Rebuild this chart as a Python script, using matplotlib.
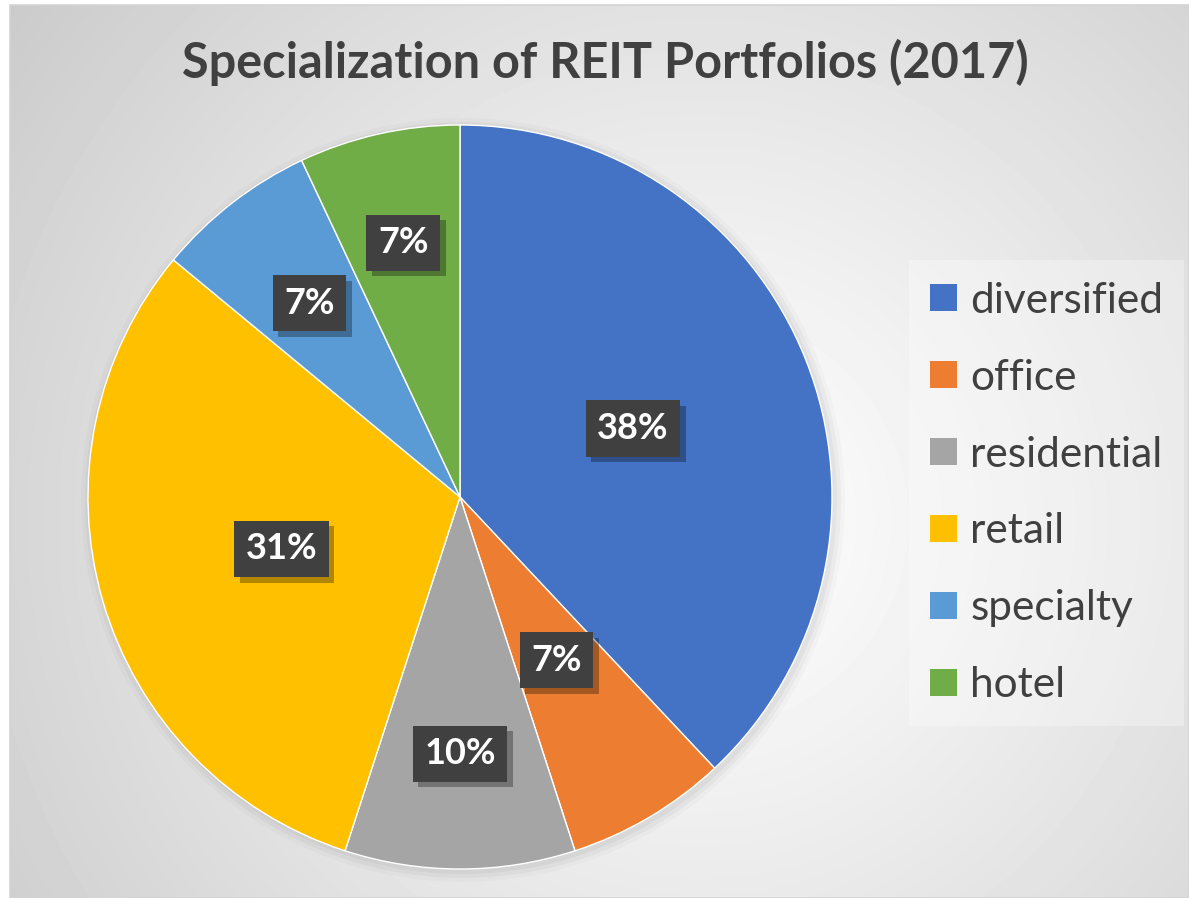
import numpy as np
import matplotlib.pyplot as plt
from matplotlib.patches import Rectangle, Circle
import matplotlib.patheffects as pe

categories = ['diversified', 'office', 'residential', 'retail', 'specialty', 'hotel']
shares = [38, 7, 10, 31, 7, 7]
colors = ['#4472C4', '#ED7D31', '#A5A5A5', '#FFC000', '#5B9BD5', '#70AD47']
title = 'Specialization of REIT Portfolios (2017)'

# how far out each percentage label sits (fraction of radius), Excel "best fit"
label_dist = [0.50, 0.51, 0.69, 0.50, 0.66, 0.70]

W, H = 1189, 898
FONT = 'Lato'
TXT = '#404040'

fig = plt.figure(figsize=(W / 100, H / 100), dpi=100)
ax = fig.add_axes([0, 0, 1, 1])

# radial grey background of the chart area
yy, xx = np.mgrid[5:H, 10:W]
d = np.hypot(xx - 700, yy - 520)
bg = 1 - 0.21 * (d / 880) ** 1.1
ax.imshow(bg, cmap='gray', vmin=0, vmax=1, extent=(10, W, 0, H - 5),
          origin='upper', zorder=0, aspect='auto')
ax.add_patch(Rectangle((10, 0), W - 10, H - 5, fill=False, ec='#d4d4d4', lw=1.2, zorder=1))

cx, cy, r = 460, H - 497, 372

# soft shadow round the pie
for k, a in enumerate([0.035, 0.03, 0.02]):
    ax.add_patch(Circle((cx + 3, cy - 3), r + 2 + 4 * k, color='black', alpha=a, lw=0, zorder=1))

wedges, texts, autotexts = ax.pie(
    shares, colors=colors, startangle=90, counterclock=False,
    center=(cx, cy), radius=r, autopct='%1.0f%%',
    wedgeprops=dict(edgecolor='white', linewidth=1))

for w, t, dist in zip(wedges, autotexts, label_dist):
    w.set_zorder(2)
    ang = np.deg2rad((w.theta1 + w.theta2) / 2)
    t.set_position((cx + r * dist * np.cos(ang), cy + r * dist * np.sin(ang)))
    t.set_fontsize(26)
    t.set_fontweight('bold')
    t.set_fontfamily(FONT)
    t.set_color('white')
    t.set_zorder(5)
    t.set_bbox(dict(boxstyle='square,pad=0.32', fc='#404040', ec='none'))
    t.get_bbox_patch().set_path_effects(
        [pe.SimplePatchShadow(offset=(4, -4), shadow_rgbFace='black', alpha=0.3), pe.Normal()])

ax.set_xlim(0, W)
ax.set_ylim(0, H)
ax.axis('off')

ax.text(605, H - 62, title, ha='center', va='center', fontsize=35,
        fontweight='bold', color=TXT, family=FONT, zorder=5)

leg = ax.legend(wedges, categories, loc='center left',
                bbox_to_anchor=(888 / W, 1 - 493 / H),
                prop={'family': FONT, 'size': 30.5}, labelcolor=TXT,
                handlelength=0.62, handleheight=0.62, handletextpad=0.32,
                labelspacing=0.92, borderpad=0.5, frameon=True, fancybox=False)
leg.get_frame().set_facecolor('white')
leg.get_frame().set_alpha(0.3)
leg.get_frame().set_edgecolor('none')
for h in leg.legend_handles:
    h.set_edgecolor('none')

fig.savefig('out.png', dpi=100, facecolor='white')
